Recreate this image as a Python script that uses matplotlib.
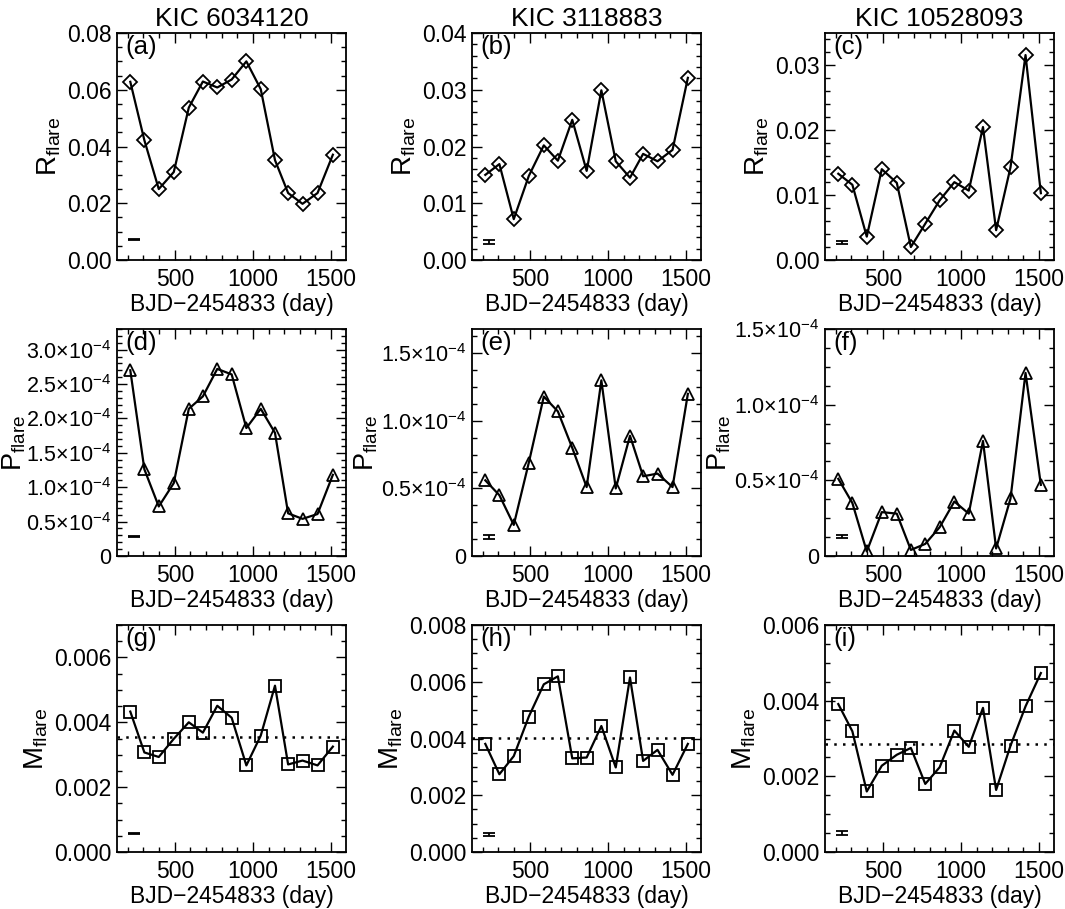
import numpy as np
import matplotlib
matplotlib.use("Agg")
import matplotlib.pyplot as plt
from matplotlib.ticker import MultipleLocator, AutoMinorLocator, FuncFormatter

plt.rcParams["font.family"] = ["Liberation Sans", "DejaVu Sans"]
plt.rcParams["mathtext.fontset"] = "custom"
plt.rcParams["mathtext.rm"] = "Liberation Sans"
plt.rcParams["mathtext.it"] = "Liberation Sans"
plt.rcParams["mathtext.default"] = "regular"

# quarter mid-times (BJD-2454833)
days = [216, 306, 398, 494, 590, 680, 772, 864, 958, 1050, 1141, 1225, 1317, 1413, 1511]
stars = ["KIC 6034120", "KIC 3118883", "KIC 10528093"]

# flare rate
r_flare_a = [0.0628, 0.0422, 0.0250, 0.0310, 0.0537, 0.0629, 0.0608, 0.0636, 0.0700, 0.0602, 0.0352, 0.0236, 0.0198, 0.0236, 0.0371]
r_flare_b = [0.0150, 0.0169, 0.0072, 0.0148, 0.0202, 0.0175, 0.0247, 0.0157, 0.0299, 0.0174, 0.0145, 0.0187, 0.0174, 0.0194, 0.0321]
r_flare_c = [0.0133, 0.0116, 0.0036, 0.0140, 0.0119, 0.0020, 0.0056, 0.0092, 0.0120, 0.0107, 0.0205, 0.0046, 0.0143, 0.0316, 0.0103]

# flare probability (x1e-4)
p_flare_d = [2.70, 1.26, 0.72, 1.06, 2.14, 2.32, 2.72, 2.64, 1.86, 2.14, 1.79, 0.62, 0.54, 0.61, 1.18]
p_flare_e = [0.56, 0.45, 0.23, 0.69, 1.18, 1.07, 0.80, 0.51, 1.30, 0.50, 0.89, 0.59, 0.61, 0.51, 1.20]
p_flare_f = [0.51, 0.35, 0.03, 0.29, 0.28, 0.04, 0.08, 0.19, 0.36, 0.28, 0.76, 0.05, 0.38, 1.21, 0.47]

# flare magnitude (x1e-3)
m_flare_g = [4.33, 3.07, 2.93, 3.49, 4.00, 3.68, 4.51, 4.14, 2.67, 3.59, 5.13, 2.70, 2.82, 2.67, 3.25]
m_flare_h = [3.81, 2.74, 3.38, 4.77, 5.91, 6.19, 3.30, 3.33, 4.44, 2.98, 6.15, 3.21, 3.60, 2.72, 3.81]
m_flare_i = [3.91, 3.19, 1.60, 2.28, 2.57, 2.75, 1.80, 2.24, 3.21, 2.78, 3.81, 1.64, 2.81, 3.85, 4.73]
m_mean = [3.54, 4.02, 2.86]

# representative error bars (x, y, yerr)
err_x = 240
err_r = [(0.0073, 0.0002), (0.0032, 0.0003), (0.0027, 0.0003)]
err_p = [(0.28, 0.01), (0.14, 0.015), (0.13, 0.01)]
err_m = [(0.57, 0.03), (0.62, 0.04), (0.50, 0.05)]

fig = plt.figure(figsize=(10.65, 9.09), dpi=100)
W, H = 1065.0, 909.0
col_left = [117, 472, 825]
row_top = [33, 329, 625]
aw, ah = 229, 227

xlim = (131, 1595)
labels = "abcdefghi"
TICK_FS = 16.5


def make_ax(r, c):
    ax = fig.add_axes([col_left[c] / W, 1 - (row_top[r] + ah) / H, aw / W, ah / H])
    ax.set_xlim(*xlim)
    ax.xaxis.set_major_locator(MultipleLocator(500))
    ax.xaxis.set_minor_locator(MultipleLocator(100))
    ax.tick_params(which="both", direction="in", top=True, right=True,
                   labelsize=TICK_FS, width=1.0)
    ax.tick_params(which="major", length=7)
    ax.tick_params(which="minor", length=3.5)
    ax.tick_params(axis="x", pad=6)
    ax.tick_params(axis="y", pad=4)
    for s in ax.spines.values():
        s.set_linewidth(1.3)
    ax.set_xlabel("BJD\u22122454833 (day)", fontsize=TICK_FS, labelpad=1)
    ax.text(0.035, 0.99, "(%s)" % labels[r * 3 + c], transform=ax.transAxes,
            fontsize=18.5, va="top", ha="left")
    return ax


# row 1: R_flare
r_data = [r_flare_a, r_flare_b, r_flare_c]
r_ylim = [0.08, 0.04, 0.035]
r_major = [0.02, 0.01, 0.01]
for c in range(3):
    ax = make_ax(0, c)
    ax.plot(days, r_data[c], "-", color="black", lw=1.6, marker="D", ms=7,
            mfc="none", mec="black", mew=1.3)
    ax.errorbar(err_x, err_r[c][0], yerr=err_r[c][1], fmt="none", ecolor="black",
                elinewidth=1.3, capsize=4, capthick=1.3)
    ax.set_ylim(0, r_ylim[c])
    ax.yaxis.set_major_locator(MultipleLocator(r_major[c]))
    ax.yaxis.set_minor_locator(AutoMinorLocator(4 if c == 0 else 5))
    ax.yaxis.set_major_formatter(FuncFormatter(lambda v, p: "%.2f" % v))
    ax.set_ylabel(r"R$_{flare}$", fontsize=20, labelpad=3)
    ax.set_title(stars[c], fontsize=19, pad=5)


def p_fmt(v, pos):
    if abs(v) < 1e-9:
        return "0"
    return r"$%.1f{\times}10^{-4}$" % v


# row 2: P_flare
p_data = [p_flare_d, p_flare_e, p_flare_f]
p_ylim = [3.3, 1.68, 1.5]
for c in range(3):
    ax = make_ax(1, c)
    ax.plot(days, p_data[c], "-", color="black", lw=1.6, marker="^", ms=9,
            mfc="none", mec="black", mew=1.3)
    ax.errorbar(err_x, err_p[c][0], yerr=err_p[c][1], fmt="none", ecolor="black",
                elinewidth=1.3, capsize=4, capthick=1.3)
    ax.set_ylim(0, p_ylim[c])
    ax.yaxis.set_major_locator(MultipleLocator(0.5))
    ax.yaxis.set_minor_locator(AutoMinorLocator(5 if c == 0 else 4))
    ax.yaxis.set_major_formatter(FuncFormatter(p_fmt))
    ax.tick_params(axis="y", labelsize=15.5)
    ax.set_ylabel(r"P$_{flare}$", fontsize=19.5, labelpad=-1 if c == 0 else 1)

# row 3: M_flare
m_data = [m_flare_g, m_flare_h, m_flare_i]
m_ylim = [7.0, 8.0, 6.0]
for c in range(3):
    ax = make_ax(2, c)
    ax.axhline(m_mean[c], color="black", ls=(0, (1, 2.5)), lw=1.8)
    ax.plot(days, m_data[c], "-", color="black", lw=1.6, marker="s", ms=8,
            mfc="none", mec="black", mew=1.3)
    ax.errorbar(err_x, err_m[c][0], yerr=err_m[c][1], fmt="none", ecolor="black",
                elinewidth=1.3, capsize=4, capthick=1.3)
    ax.set_ylim(0, m_ylim[c])
    ax.yaxis.set_major_locator(MultipleLocator(2))
    ax.yaxis.set_minor_locator(AutoMinorLocator(4))
    ax.yaxis.set_major_formatter(FuncFormatter(lambda v, p: "%.3f" % (v / 1000)))
    ax.set_ylabel(r"M$_{flare}$", fontsize=20, labelpad=3)

fig.savefig("out.png", dpi=100)
